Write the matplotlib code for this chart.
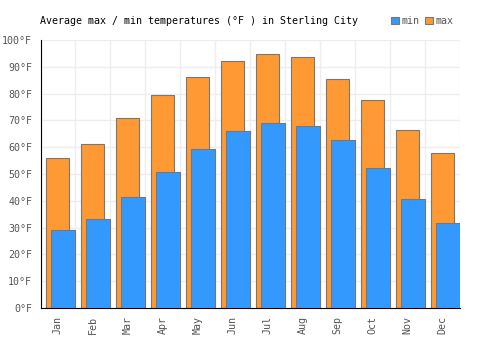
import matplotlib
matplotlib.use("Agg")
import matplotlib.pyplot as plt
import numpy as np
from matplotlib.patches import Patch

months = ["Jan", "Feb", "Mar", "Apr", "May", "Jun", "Jul", "Aug", "Sep", "Oct", "Nov", "Dec"]
max_temps = [56, 61, 71, 79.5, 86, 92, 94.7, 93.7, 85.3, 77.5, 66.3, 57.7]
min_temps = [29, 33.2, 41.3, 50.6, 59.2, 65.9, 68.9, 67.8, 62.6, 52.1, 40.6, 31.6]
yticks = list(range(0, 101, 10))
ytick_labels = [f"{v}°F" for v in yticks]

plt.rcParams['font.family'] = ['DejaVu Sans Mono']

fig = plt.figure(figsize=(5, 3.5), dpi=100)
ax = fig.add_axes([0.081, 0.12, 0.839, 0.766])

x = np.arange(len(months))
ax.bar(x + 0.157, max_temps, width=0.67, align='edge', color='#ff9933',
       edgecolor='#777777', linewidth=0.8, zorder=2, label='max')
ax.bar(x + 0.30, min_temps, width=0.70, align='edge', color='#3399ff',
       edgecolor='#777777', linewidth=0.8, zorder=3, label='min')

ax.set_xlim(0, 12)
ax.set_ylim(0, 100)
ax.set_yticks(yticks)
ax.set_yticklabels(ytick_labels)
ax.set_xticks(x + 0.5)
ax.set_xticklabels(months, rotation=90)
ax.set_xticks(np.arange(13), minor=True)
ax.tick_params(axis='both', which='both', length=0, labelsize=7.2, colors='#555555', pad=6)
ax.grid(True, which='minor', axis='x', color='#eeeeee', linewidth=1, zorder=0)
ax.grid(True, which='major', axis='y', color='#eeeeee', linewidth=1, zorder=0)
ax.set_axisbelow(True)
for s in ['top', 'right']:
    ax.spines[s].set_visible(False)
ax.spines['left'].set_color('black')
ax.spines['bottom'].set_color('black')

fig.text(0.08, 0.94, "Average max / min temperatures (°F ) in Sterling City",
         fontsize=7.2, color='black', va='center', ha='left')

handles = [Patch(facecolor='#3399ff', edgecolor='#777777', linewidth=0.8),
           Patch(facecolor='#ff9933', edgecolor='#777777', linewidth=0.8)]
leg = fig.legend(handles, ['min', 'max'], ncol=2, frameon=False,
                 loc='center left', bbox_to_anchor=(0.782, 0.94),
                 handlelength=0.8, handleheight=0.8, handletextpad=0.2,
                 columnspacing=0.6, borderpad=0, borderaxespad=0,
                 prop={'size': 7.2})
for t in leg.get_texts():
    t.set_color('#555555')

fig.savefig("out.png", dpi=100)
